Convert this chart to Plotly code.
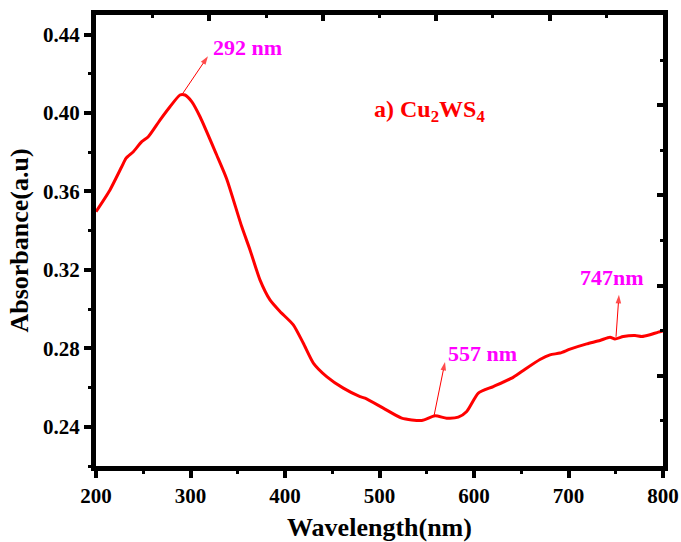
import plotly.graph_objects as go

wavelength = [200, 214.8, 227.2, 231.7, 239.5, 248.4, 255.3, 267.7, 278.3, 288.9, 294.2, 301.3,
              310.1, 327.7, 338.3, 354.2, 363.0, 373.5, 384.1, 394.7, 408.8, 419.4, 430.0, 444.1,
              461.7, 479.4, 484.7, 504.0, 523.5, 544.7, 558.7, 571.1, 583.4, 592.3, 604.6, 620.4,
              639.9, 650.5, 669.8, 680.4, 691.0, 701.6, 719.3, 733.3, 743.9, 749.2, 758.0, 770.4,
              777.5, 786.2, 795.0, 800]
absorbance = [0.3497, 0.3608, 0.3726, 0.3769, 0.3803, 0.3854, 0.3879, 0.3964, 0.4032, 0.4092, 0.4092, 0.4058,
              0.3981, 0.3786, 0.3664, 0.3421, 0.3302, 0.3149, 0.3047, 0.2988, 0.2920, 0.2826, 0.2725, 0.2656,
              0.2597, 0.2554, 0.2546, 0.2495, 0.2444, 0.2432, 0.2456, 0.2444, 0.2449, 0.2478, 0.2572, 0.2605,
              0.2648, 0.2682, 0.2743, 0.2767, 0.2776, 0.2796, 0.2823, 0.2840, 0.2857, 0.2848, 0.2860, 0.2865,
              0.2860, 0.2869, 0.2883, 0.2889]

x_ticks = [200, 300, 400, 500, 600, 700, 800]
y_ticks = [0.24, 0.28, 0.32, 0.36, 0.40, 0.44]
y_tick_labels = ["0.24", "0.28", "0.32", "0.36", "0.40", "0.44"]

peak_labels = ["292 nm", "557 nm", "747nm"]
peak_tail_x = [292.1, 557.7, 750.3]
peak_tail_y = [0.4102, 0.2456, 0.2859]
peak_head_x = [318.5, 569.3, 753.4]
peak_head_y = [0.429, 0.2731, 0.3073]
label_x = [321.7, 570.4, 710.1]
label_y = [0.4334, 0.2772, 0.3159]

title_label = "a) Cu<sub>2</sub>WS<sub>4</sub>"
title_x = 492.1
title_y = 0.4010

XR = [200, 800]
YR = [0.22, 0.45]
FONT = "Liberation Serif"

fig = go.Figure()
fig.add_trace(go.Scatter(x=wavelength, y=absorbance, mode="lines",
                         line=dict(color="#ff0000", width=3, shape="spline", smoothing=0.6),
                         showlegend=False))

for i in range(len(peak_labels)):
    fig.add_trace(go.Scatter(x=[peak_tail_x[i], peak_head_x[i]], y=[peak_tail_y[i], peak_head_y[i]],
                             mode="lines+markers", line=dict(color="#ff0000", width=1),
                             marker=dict(symbol=["circle", "arrow"], size=[0, 9], angleref="previous",
                                         color="#ff0000", line=dict(width=0)),
                             showlegend=False, hoverinfo="skip"))

# invisible trace so the top/right tick-only axes render
fig.add_trace(go.Scatter(x=[0], y=[0], xaxis="x2", yaxis="y2", mode="markers",
                         marker=dict(opacity=0), showlegend=False, hoverinfo="skip"))

axis_common = dict(showgrid=False, zeroline=False, linecolor="black", linewidth=5, automargin=False,
                   showline=True)

fig.update_layout(
    width=681, height=542,
    margin=dict(l=96, r=18, t=15, b=76),
    paper_bgcolor="white", plot_bgcolor="white",
    xaxis=dict(range=XR, tickvals=x_ticks, ticks="outside", ticklen=7, tickwidth=4, tickcolor="black",
               mirror=True,
               minor=dict(ticks="outside", ticklen=3, tickwidth=3, dtick=50, tick0=200, tickcolor="black"),
               tickfont=dict(family=FONT, size=21, color="black", weight="bold"),
               title=dict(text="Wavelength(nm)", font=dict(family=FONT, size=26, color="black", weight="bold"),
                          standoff=14),
               **axis_common),
    yaxis=dict(range=YR, tickvals=y_ticks, ticktext=y_tick_labels, ticks="outside", ticklen=7, tickwidth=4,
               tickcolor="black", mirror=True,
               minor=dict(ticks="outside", ticklen=3, tickwidth=3, dtick=0.02, tick0=0.22, tickcolor="black"),
               tickfont=dict(family=FONT, size=21, color="black", weight="bold"),
               title=dict(text="Absorbance(a.u)", font=dict(family=FONT, size=26, color="black", weight="bold"),
                          standoff=8),
               **axis_common),
    xaxis2=dict(range=[0, 10], overlaying="x", side="top", tick0=0, dtick=2, ticks="inside", ticklen=6,
                tickwidth=4, tickcolor="black", showticklabels=False,
                minor=dict(ticks="inside", ticklen=3, tickwidth=3, dtick=1, tick0=0, tickcolor="black"),
                **axis_common),
    yaxis2=dict(range=[0, 10], overlaying="y", side="right", tick0=0, dtick=2, ticks="inside", ticklen=6,
                tickwidth=4, tickcolor="black", showticklabels=False,
                minor=dict(ticks="inside", ticklen=3, tickwidth=3, dtick=1, tick0=0, tickcolor="black"),
                **axis_common),
)

for i in range(len(peak_labels)):
    fig.add_annotation(x=label_x[i], y=label_y[i], xref="x", yref="y", text=peak_labels[i],
                       showarrow=False, xanchor="left", yanchor="middle",
                       font=dict(family=FONT, size=22, color="#ff00ff", weight="bold"))

fig.add_annotation(x=title_x, y=title_y, xref="x", yref="y", text=title_label,
                   showarrow=False, xanchor="left", yanchor="middle",
                   font=dict(family=FONT, size=24, color="#ff0000", weight="bold"))

fig.write_html("out.html")
